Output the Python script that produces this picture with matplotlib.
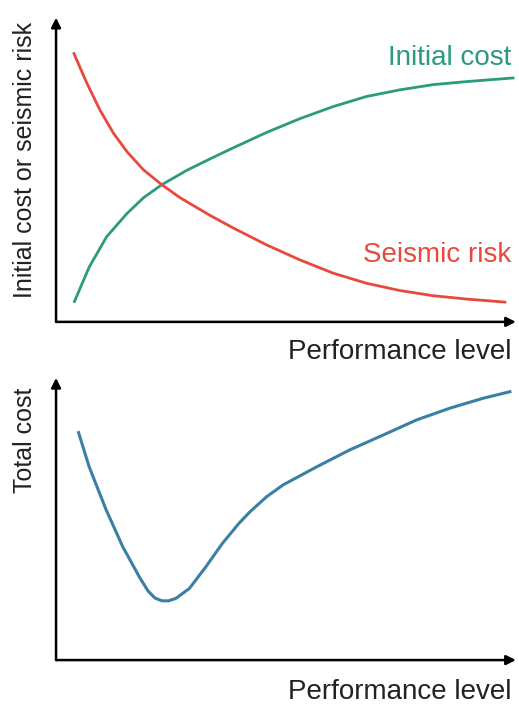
import numpy as np
import matplotlib.pyplot as plt

plt.rcParams['font.family'] = ['Liberation Sans', 'DejaVu Sans']

# performance level (0-100) and curve values
perf_red = [3.9, 6.7, 9.6, 12.5, 15.4, 19.0, 23.0, 27.0, 33.5, 38.5, 45.8, 53.0, 60.3,
            67.5, 74.8, 82.0, 89.3, 97.6]
seismic_risk = [88.2, 78.5, 69.5, 62.0, 56.0, 50.0, 45.1, 40.8, 35.0, 30.9, 25.3, 20.4, 16.0,
                12.7, 10.3, 8.6, 7.5, 6.5]

perf_green = [4.0, 7.2, 11.0, 15.4, 19.0, 23.0, 28.4, 33.5, 38.5, 45.8, 53.0, 60.3, 67.5,
              74.8, 82.0, 89.3, 99.4]
initial_cost = [6.7, 18.0, 28.0, 35.6, 40.8, 45.1, 49.8, 53.6, 57.2, 62.3, 66.8, 70.8, 74.1,
                76.3, 78.0, 79.0, 80.2]

perf_blue = [4.9, 7.2, 10.9, 14.5, 18.1, 20.0, 21.5, 23.0, 24.5, 26.1, 29.0, 32.6, 36.2,
             39.8, 42.2, 45.8, 49.4, 56.7, 63.9, 71.2, 78.4, 85.7, 92.9, 98.7]
total_cost = [80.6, 68.5, 53.2, 40.2, 29.5, 24.5, 22.0, 21.0, 21.0, 21.9, 25.4, 33.1, 41.4,
              48.5, 52.6, 57.9, 62.1, 68.5, 74.5, 79.8, 85.1, 89.3, 92.8, 95.1]

fig = plt.figure(figsize=(5.19, 7.09), dpi=100)
ax1 = fig.add_axes([0.108, 0.546, 0.886, 0.429])
ax2 = fig.add_axes([0.108, 0.069, 0.886, 0.398])

green = '#2b9a7e'
red = '#e8493d'
blue = '#3b7fa6'

ax1.plot(perf_green, initial_cost, color=green, lw=2, solid_joinstyle='round')
ax1.plot(perf_red, seismic_risk, color=red, lw=2, solid_joinstyle='round')
ax2.plot(perf_blue, total_cost, color=blue, lw=2.2, solid_joinstyle='round')

for ax in (ax1, ax2):
    ax.set_xlim(0, 100)
    ax.set_ylim(0, 100)
    for s in ax.spines.values():
        s.set_visible(False)
    ax.set_xticks([])
    ax.set_yticks([])
    ax.annotate('', xy=(0, 1.0), xytext=(0, 0), xycoords='axes fraction',
                arrowprops=dict(arrowstyle='-|>', color='black', lw=1.8, mutation_scale=14,
                                shrinkA=0, shrinkB=0))
    ax.annotate('', xy=(1.0, 0), xytext=(0, 0), xycoords='axes fraction',
                arrowprops=dict(arrowstyle='-|>', color='black', lw=1.8, mutation_scale=14,
                                shrinkA=0, shrinkB=0))

ax1.text(99.1, 86.8, 'Initial cost', color=green, fontsize=20, ha='right', va='center')
ax1.text(99.1, 22, 'Seismic risk', color=red, fontsize=20, ha='right', va='center')

fig.text(0.9865, 0.5035, 'Performance level', fontsize=20, ha='right', va='center', color='#222222')
fig.text(0.9865, 0.024, 'Performance level', fontsize=20, ha='right', va='center', color='#222222')
fig.text(0.048, 0.774, 'Initial cost or seismic risk', fontsize=18, rotation=90,
         ha='center', va='center', color='#222222')
fig.text(0.048, 0.379, 'Total cost', fontsize=18, rotation=90,
         ha='center', va='center', color='#222222')

fig.savefig('out.png', dpi=100)
